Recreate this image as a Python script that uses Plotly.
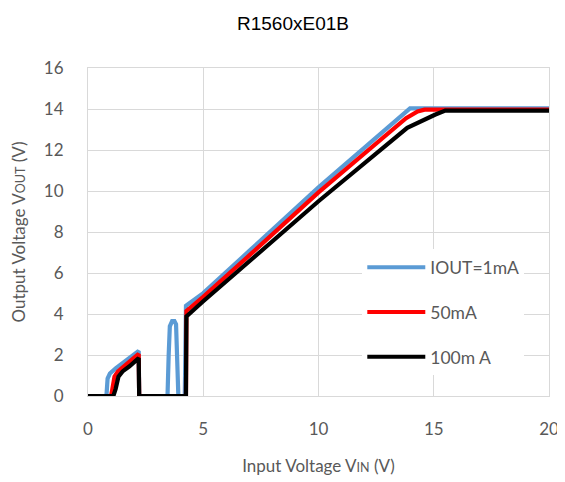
import plotly.graph_objects as go

# ---- data ----
series_names = ["IOUT=1mA", "50mA", "100m A"]
series_colors = ["#5b9bd5", "#ff0000", "#000000"]

vin_1ma = [0, 0.8, 0.85, 0.95, 1.2, 1.6, 2.0, 2.18, 2.2, 2.22, 3.45, 3.5, 3.55, 3.65, 3.75,
           3.82, 3.88, 3.92, 4.2, 4.25, 4.3, 5.0, 7.0, 10.0, 13.97, 14.2, 20]
vout_1ma = [0, 0, 0.85, 1.1, 1.35, 1.7, 2.0, 2.15, 2.2, 0, 0, 2.0, 3.4, 3.65, 3.65,
            3.5, 2.0, 0, 0, 4.4, 4.45, 5.02, 7.08, 10.18, 14.03, 14.03, 14.03]

vin_50ma = [0, 1.0, 1.05, 1.15, 1.3, 1.6, 2.0, 2.2, 2.22, 4.25, 4.27, 5.0, 7.0, 10.0,
            13.8, 14.3, 14.6, 20]
vout_50ma = [0, 0, 0.3, 0.95, 1.2, 1.5, 1.85, 2.05, 0, 0, 4.15, 4.84, 6.86, 9.93,
             13.55, 13.88, 13.97, 13.97]

vin_100ma = [0, 1.1, 1.2, 1.32, 1.5, 1.8, 2.2, 2.22, 4.25, 4.27, 5.0, 7.0, 10.0,
             13.85, 14.5, 15.05, 15.5, 20]
vout_100ma = [0, 0, 0.35, 0.94, 1.2, 1.45, 1.85, 0, 0, 3.88, 4.62, 6.57, 9.5,
              13.08, 13.45, 13.72, 13.92, 13.92]

x_ticks = [0, 5, 10, 15, 20]
y_ticks = [0, 2, 4, 6, 8, 10, 12, 14, 16]

xs = [vin_1ma, vin_50ma, vin_100ma]
ys = [vout_1ma, vout_50ma, vout_100ma]

fig = go.Figure()
for i, name in enumerate(series_names):
    fig.add_trace(go.Scatter(
        x=xs[i], y=ys[i], mode="lines", name=name,
        line=dict(color=series_colors[i], width=4.2),
        legendgroup=str(i),
    ))

grid = "#d9d9d9"
tick_font = dict(family="Lato, Open Sans, sans-serif", size=17, color="#595959")
title_font = dict(family="Lato, Open Sans, sans-serif", size=17, color="#595959")

W, H = 557, 474  # page body has an 8px margin

fig.update_layout(
    width=W, height=H,
    margin=dict(l=80, r=16, t=60, b=86),
    paper_bgcolor="white", plot_bgcolor="white",
    title=dict(text="R1560xE01B", x=285 / W, xref="container", xanchor="center",
               y=1 - 15 / H, yref="container", yanchor="middle",
               font=dict(family="Liberation Sans, Arial, sans-serif", size=19, color="#000000")),
    showlegend=True,
    legend=dict(x=0.595, y=0.447, xanchor="left", yanchor="top",
                bgcolor="white", borderwidth=0,
                font=dict(family="Lato, Open Sans, sans-serif", size=17.5, color="#595959"),
                traceorder="grouped", tracegroupgap=19, itemwidth=58),
    xaxis=dict(range=[0, 20], tickvals=x_ticks, showgrid=True, gridcolor=grid, gridwidth=1,
               zeroline=False, showline=True, linecolor=grid, mirror=True, automargin=False,
               tickfont=tick_font, ticks="", ticklabelstandoff=18,
               title=dict(text="Input Voltage V<span style='font-size:12.5px'>IN</span> (V)",
                          font=title_font, standoff=21)),
    yaxis=dict(range=[0, 16], tickvals=y_ticks, showgrid=True, gridcolor=grid, gridwidth=1,
               zeroline=False, showline=True, linecolor=grid, mirror=True, automargin=False,
               tickfont=tick_font, ticks="", ticklabelstandoff=20,
               title=dict(text="Output Voltage V<span style='font-size:12.5px'>OUT</span> (V)",
                          font=title_font, standoff=15)),
)

fig.write_html("out.html")
